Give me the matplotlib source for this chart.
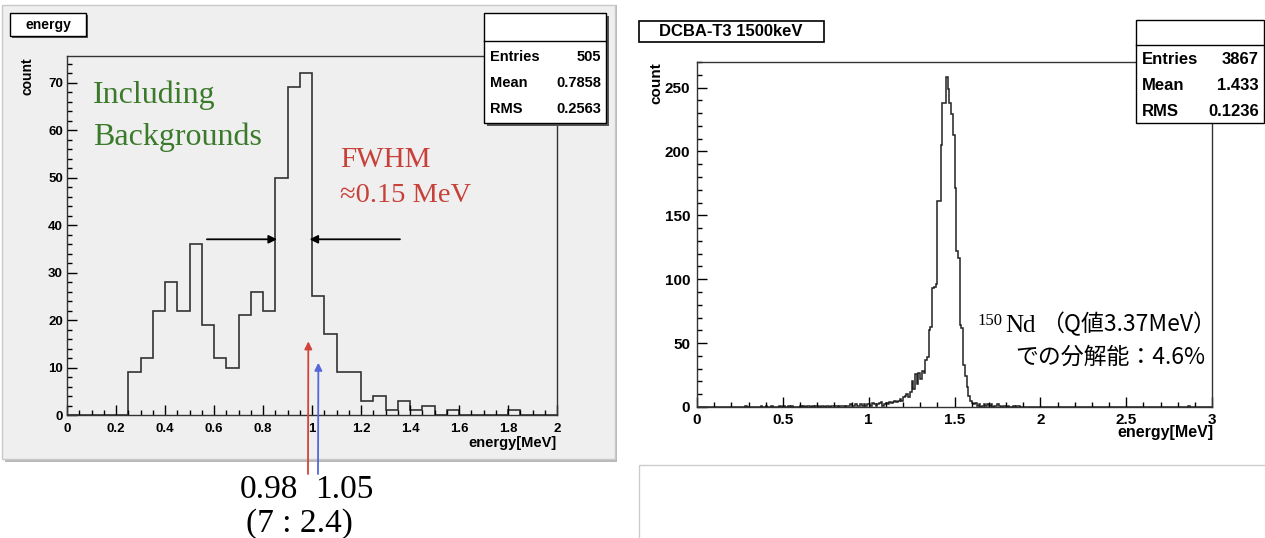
#two ROOT style energy histograms side by side, with annotations
import numpy as np
import matplotlib
matplotlib.use("Agg")
from matplotlib import pyplot as plt
from matplotlib.patches import Rectangle
from matplotlib.ticker import MultipleLocator, FormatStrFormatter

#left histogram: 40 bins of 0.05 MeV from 0 to 2
left_counts = [0, 0, 0, 0, 0, 9, 12, 22, 28, 22,
               36, 19, 12, 10, 21, 26, 22, 50, 69, 72,
               25, 17, 9, 9, 3, 4, 1, 3, 1, 2,
               0, 1, 0, 0, 0, 0, 1, 0, 0, 0]
left_stats = [("Entries", "505"), ("Mean", "0.7858"), ("RMS", "0.2563")]

#right histogram: 300 bins of 0.01 MeV from 0 to 3
right_counts = [
    0, 0, 0, 0, 0, 0, 0, 0, 0, 0,
    0, 0, 0, 0, 0, 0, 0, 0, 0, 0,
    0, 0, 0, 0, 0, 0, 0, 0, 1, 0,
    0, 0, 0, 0, 0, 0, 0, 1, 0, 0,
    1, 0, 0, 1, 0, 0, 0, 0, 1, 0,
    1, 0, 0, 1, 0, 1, 0, 0, 0, 0,
    1, 0, 1, 0, 1, 1, 0, 1, 0, 1,
    1, 0, 1, 1, 0, 1, 1, 0, 1, 1,
    1, 1, 0, 1, 1, 1, 0, 1, 1, 2,
    1, 1, 2, 1, 1, 2, 1, 2, 1, 2,
    2, 1, 3, 2, 1, 2, 3, 4, 1, 2,
    3, 2, 4, 3, 4, 5, 4, 5, 6, 5,
    8, 9, 10, 8, 12, 20, 14, 26, 18, 27,
    22, 28, 27, 37, 39, 60, 63, 93, 94, 96,
    161, 161, 205, 238, 238, 258, 249, 238, 229, 213,
    171, 122, 117, 64, 62, 33, 24, 16, 9, 5,
    3, 2, 3, 1, 2, 0, 1, 2, 1, 2,
    1, 2, 0, 1, 1, 2, 1, 0, 1, 1,
    0, 1, 0, 0, 1, 0, 1, 1, 0, 0,
    0, 0, 0, 0, 0, 0, 0, 0, 0, 0,
    0, 0, 0, 0, 0, 0, 0, 0, 0, 0,
    0, 0, 0, 0, 0, 0, 0, 0, 0, 0,
    0, 0, 0, 0, 0, 0, 0, 0, 0, 0,
    0, 0, 0, 0, 0, 0, 0, 0, 0, 0,
    0, 0, 0, 0, 0, 0, 0, 0, 0, 0,
    0, 0, 0, 0, 0, 0, 0, 0, 0, 0,
    0, 0, 0, 0, 0, 0, 0, 0, 0, 0,
    0, 0, 0, 0, 0, 0, 0, 0, 0, 0,
    0, 0, 0, 0, 0, 0, 1, 0, 0, 0,
    0, 0, 0, 0, 0, 0, 0, 0, 0, 0]
right_stats = [("Entries", "3867"), ("Mean", "1.433"), ("RMS", "0.1236")]

#marked energies on the left plot (MeV) and arrow tips (count)
fwhm_left, fwhm_right, fwhm_level = 0.857, 0.99, 37
red_e, red_tip = 0.985, 15.5
blue_e, blue_tip = 1.026, 11

W, H = 1265, 538
GREY = "#efefef"

def fx(x):
    return x / W

def fy(y):
    return 1 - y / H

fig = plt.figure(figsize=(W / 100, H / 100), dpi=100)
fig.patch.set_facecolor("white")

#left canvas (grey screenshot with a shadow)
fig.patches.append(Rectangle((fx(5), fy(462)), (617 - 5) / W, (462 - 5) / H,
                             transform=fig.transFigure, facecolor="#b8b8b8",
                             edgecolor="none", zorder=-2))
fig.patches.append(Rectangle((fx(2), fy(459)), (615 - 2) / W, (459 - 5) / H,
                             transform=fig.transFigure, facecolor=GREY,
                             edgecolor="#c8c8c8", lw=1, zorder=-1))
#empty box below the right plot
fig.patches.append(Rectangle((fx(639), fy(545)), (1280 - 639) / W, (545 - 465) / H,
                             transform=fig.transFigure, facecolor="white",
                             edgecolor="#cccccc", lw=1, zorder=-1))


def box(x0, y0, x1, y1, shadow=0, lw=1.0):
    if shadow:
        fig.patches.append(Rectangle((fx(x0 + shadow), fy(y1 + shadow)), (x1 - x0) / W,
                                     (y1 - y0) / H, transform=fig.transFigure,
                                     facecolor="#555555", edgecolor="none", zorder=3))
    fig.patches.append(Rectangle((fx(x0), fy(y1)), (x1 - x0) / W, (y1 - y0) / H,
                                 transform=fig.transFigure, facecolor="white",
                                 edgecolor="black", lw=lw, zorder=4))


def stat_box(x0, y0, x1, y1, ysep, rows, ypos, fs, shadow):
    box(x0, y0, x1, y1, shadow)
    fig.add_artist(plt.Line2D([fx(x0), fx(x1)], [fy(ysep), fy(ysep)], color="black",
                              lw=1.0, zorder=5))
    for (name, val), yy in zip(rows, ypos):
        fig.text(fx(x0 + 6), fy(yy), name, ha="left", va="center", fontsize=fs,
                 fontweight="bold", family="Liberation Sans", zorder=6)
        fig.text(fx(x1 - 5), fy(yy), val, ha="right", va="center", fontsize=fs,
                 fontweight="bold", family="Liberation Sans", zorder=6)


def style_axis(ax, xmaj, xmin, ymaj, ymin, fs, padx, pady):
    ax.xaxis.set_major_locator(MultipleLocator(xmaj))
    ax.xaxis.set_minor_locator(MultipleLocator(xmin))
    ax.yaxis.set_major_locator(MultipleLocator(ymaj))
    ax.yaxis.set_minor_locator(MultipleLocator(ymin))
    ax.xaxis.set_major_formatter(FormatStrFormatter("%g"))
    ax.yaxis.set_major_formatter(FormatStrFormatter("%g"))
    ax.tick_params(which="both", direction="in", top=False, right=False,
                   width=1.0, color="black")
    ax.tick_params(which="major", length=7)
    ax.tick_params(which="minor", length=3.5)
    ax.tick_params(axis="x", pad=padx)
    ax.tick_params(axis="y", pad=pady)
    for lab in ax.get_xticklabels() + ax.get_yticklabels():
        lab.set_fontsize(fs)
        lab.set_fontweight("bold")
        lab.set_family("Liberation Sans")
    for s in ax.spines.values():
        s.set_linewidth(1.0)
        s.set_color("#333333")


#---------------- left plot ----------------
ax1 = fig.add_axes([fx(67), fy(415), (557 - 67) / W, (415 - 56) / H])
ax1.set_facecolor(GREY)
edges1 = np.linspace(0, 2, len(left_counts) + 1)
ax1.stairs(left_counts, edges1, color="#333333", lw=1.2)
ax1.set_xlim(0, 2)
ax1.set_ylim(0, 75.6)
style_axis(ax1, 0.2, 0.05, 10, 2, 9.5, 6, 3)

fig.text(fx(27), fy(57), "count", rotation=90, ha="center", va="top", fontsize=10,
         fontweight="bold", family="Liberation Sans")
fig.text(fx(557), fy(443), "energy[MeV]", ha="right", va="center", fontsize=10.5,
         fontweight="bold", family="Liberation Sans")

#title and stats
box(10, 13, 86, 36, shadow=2)
fig.text(fx(48), fy(24.5), "energy", ha="center", va="center", fontsize=10,
         fontweight="bold", family="Liberation Sans", zorder=6)
stat_box(484, 13, 606, 123, 41, left_stats, [57, 83, 109], 10.5, 3)

#annotations
fig.text(fx(93), fy(103), "Including", ha="left", va="baseline", fontsize=23,
         color="#3b7a2b", family="Liberation Serif")
fig.text(fx(93), fy(145), "Backgrounds", ha="left", va="baseline", fontsize=23,
         color="#3b7a2b", family="Liberation Serif")
fig.text(fx(340), fy(167), "FWHM", ha="left", va="baseline", fontsize=21,
         color="#c8403a", family="Liberation Serif")
fig.text(fx(340), fy(202), "≈0.15 MeV", ha="left", va="baseline", fontsize=20.5,
         color="#c8403a", family="Liberation Serif")

ax1.annotate("", xy=(fwhm_left, fwhm_level), xytext=(0.571, fwhm_level),
             arrowprops=dict(arrowstyle="-|>", color="black", lw=1.3,
                             mutation_scale=12, shrinkA=0, shrinkB=0))
ax1.annotate("", xy=(fwhm_right, fwhm_level), xytext=(1.359, fwhm_level),
             arrowprops=dict(arrowstyle="-|>", color="black", lw=1.3,
                             mutation_scale=12, shrinkA=0, shrinkB=0))
ax1.annotate("", xy=(red_e, red_tip), xytext=(fx(308), fy(474)),
             textcoords="figure fraction", annotation_clip=False,
             arrowprops=dict(arrowstyle="-|>", color="#d0453a", lw=1.3,
                             mutation_scale=11, shrinkA=0, shrinkB=0))
ax1.annotate("", xy=(blue_e, blue_tip), xytext=(fx(318), fy(474)),
             textcoords="figure fraction", annotation_clip=False,
             arrowprops=dict(arrowstyle="-|>", color="#5468d8", lw=1.3,
                             mutation_scale=11, shrinkA=0, shrinkB=0))

fig.text(fx(269), fy(498), "0.98", ha="center", va="baseline", fontsize=24,
         family="Liberation Serif")
fig.text(fx(344), fy(498), "1.05", ha="center", va="baseline", fontsize=24,
         family="Liberation Serif")
fig.text(fx(299), fy(532), "(7 : 2.4)", ha="center", va="baseline", fontsize=24,
         family="Liberation Serif")

#---------------- right plot ----------------
ax2 = fig.add_axes([fx(697), fy(407), (1212 - 697) / W, (407 - 62) / H])
ax2.set_facecolor("white")
edges2 = np.linspace(0, 3, len(right_counts) + 1)
ax2.stairs(right_counts, edges2, color="#222222", lw=1.1)
ax2.set_xlim(0, 3)
ax2.set_ylim(0, 270)
style_axis(ax2, 0.5, 0.1, 50, 10, 11, 4, 5)

fig.text(fx(656), fy(62), "count", rotation=90, ha="center", va="top", fontsize=11,
         fontweight="bold", family="Liberation Sans")
fig.text(fx(1213), fy(433), "energy[MeV]", ha="right", va="center", fontsize=11.5,
         fontweight="bold", family="Liberation Sans")

box(639, 21, 824, 42, shadow=0, lw=1.2)
fig.text(fx(731), fy(32), "DCBA-T3 1500keV", ha="center", va="center", fontsize=12,
         fontweight="bold", family="Liberation Sans", zorder=6)
stat_box(1136, 20, 1264, 123, 45, right_stats, [60, 86, 112], 12, 0)

fig.text(fx(977), fy(325), "150", ha="left", va="baseline", fontsize=12,
         family="Liberation Serif")
fig.text(fx(1005), fy(331.5), "Nd", ha="left", va="baseline", fontsize=18,
         family="Liberation Serif")
fig.text(fx(1216), fy(331.5), "（Q値3.37MeV）", ha="right", va="baseline", fontsize=16.5,
         family=["Noto Sans CJK JP", "DejaVu Sans"])
fig.text(fx(1205), fy(364), "での分解能：4.6%", ha="right", va="baseline", fontsize=16.5,
         family=["Noto Sans CJK JP", "DejaVu Sans"])

fig.savefig("out.png", dpi=100)
